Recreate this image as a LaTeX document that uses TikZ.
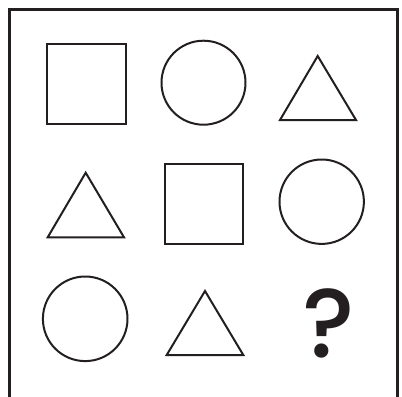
\documentclass[tikz,border=0pt]{standalone}
\usepackage{fontspec}
\newfontfamily\qfont{Poppins}[UprightFont={* Medium}]
\definecolor{ink}{HTML}{231F20}
\begin{document}
\begin{tikzpicture}[x=1bp,y=-1bp,
  shapeline/.style={draw=ink,line width=2bp,line join=miter},
  framel/.style={draw=ink,line width=2.6bp}]
\useasboundingbox (0,0) rectangle (402,397);
% frame (open at bottom)
\coordinate (fbl) at (9.6,400);
\coordinate (ftl) at (9.6,9.6);
\coordinate (ftr) at (397.4,9.6);
\coordinate (fbr) at (397.4,400);
\draw[framel] (fbl) -- (ftl) -- (ftr) -- (fbr);
% row 1
\draw[shapeline] (47.3,44.3) rectangle (126,124);
\draw[shapeline] (203.5,82.7) circle (42);
\draw[shapeline] (317.7,56) -- (356,120) -- (280,120) -- cycle;
% row 2
\draw[shapeline] (85.7,172.7) -- (124,237.3) -- (47.7,237.3) -- cycle;
\draw[shapeline] (165,164.3) rectangle (243.3,244);
\draw[shapeline] (321.7,201.7) circle (42.2);
% row 3
\draw[shapeline] (85.2,318.8) circle (42.3);
\draw[shapeline] (205,291) -- (243.3,355) -- (166.7,355) -- cycle;
\node[inner sep=0pt,text=ink,font=\qfont\fontsize{98}{98}\selectfont] (q) at (328.3,323) {?};
\end{tikzpicture}
\end{document}
